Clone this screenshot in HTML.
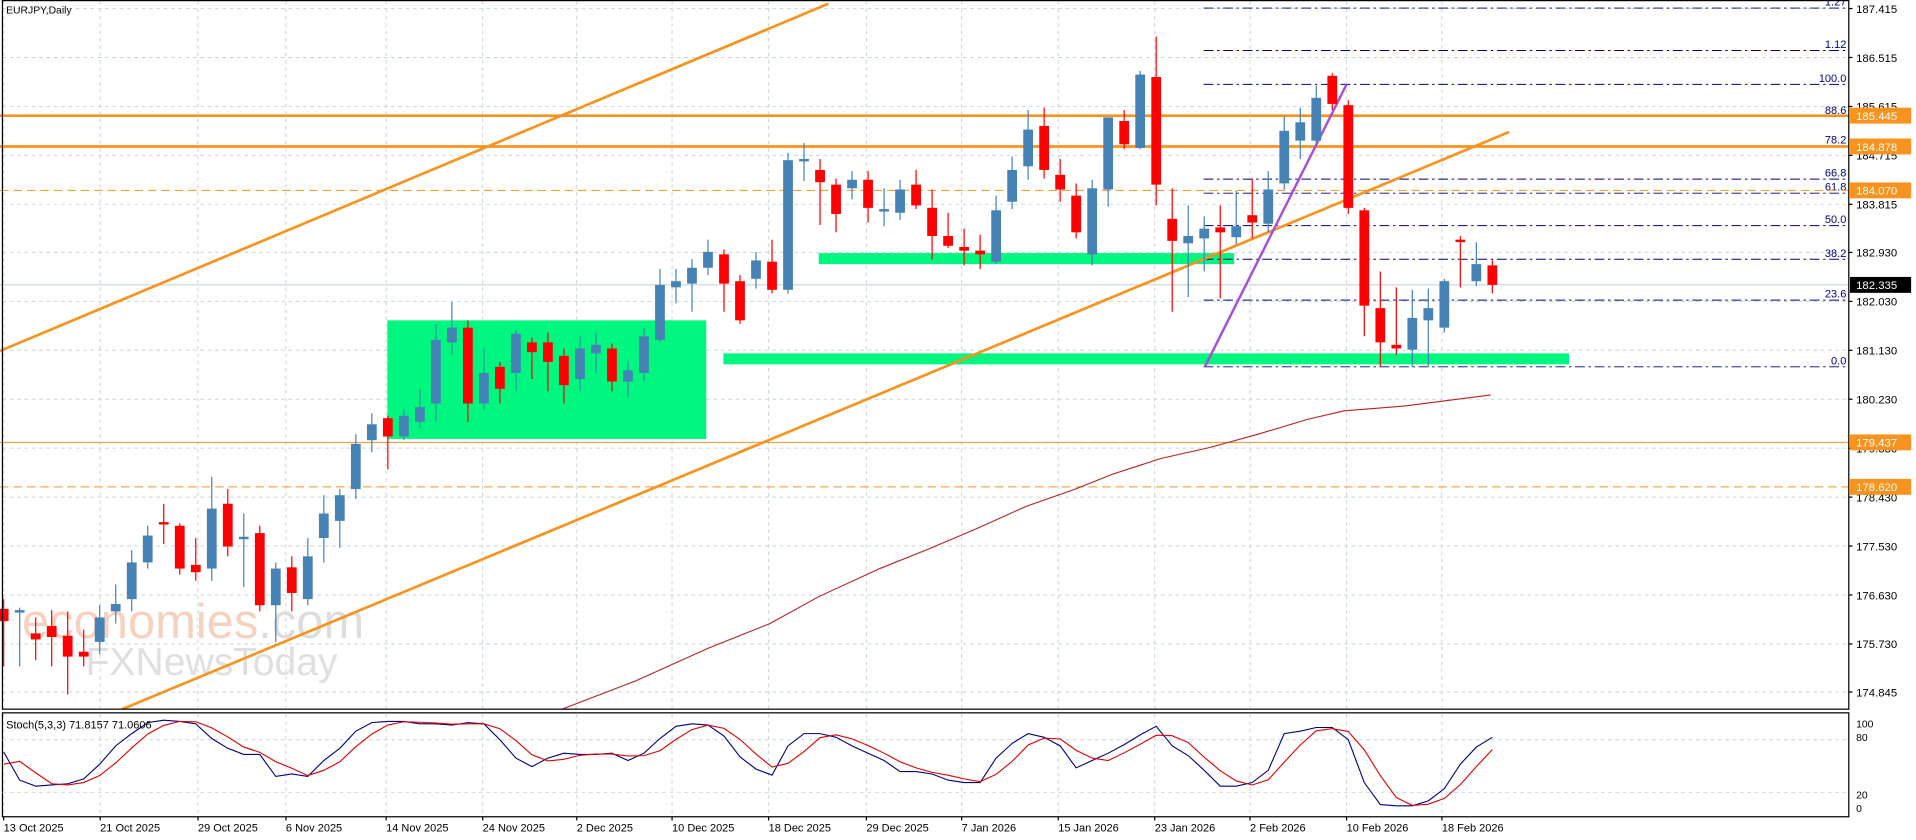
<!DOCTYPE html>
<html><head><meta charset="utf-8"><style>
html,body{margin:0;padding:0;background:#fff;overflow:hidden}
svg{display:block}
text{font-family:"Liberation Sans",sans-serif}
</style></head><body>
<svg id="s" width="1916" height="840" viewBox="0 0 1568 687" preserveAspectRatio="none" xmlns="http://www.w3.org/2000/svg">
<rect x="0" y="0" width="1568" height="687" fill="#fff"/>
<g id="grid" stroke="#c5d5dd" stroke-width="0.8" stroke-dasharray="3,3"></g>
<!-- green zones -->
<rect x="317" y="262" width="261" height="97" fill="#00f77f"/>
<rect x="670" y="207" width="340" height="9" fill="#00f77f"/>
<rect x="592" y="289" width="692" height="9" fill="#00f77f"/>
<!-- watermark -->
<text x="18" y="522" font-size="40" fill="#f6c9b4" opacity="0.85">economies<tspan fill="#d8d8d8">.com</tspan></text>
<text x="70" y="552" font-size="32" fill="#dcdcdc" opacity="0.9">FXNewsToday</text>
<!-- fib -->
<g id="fib" stroke="#000080" stroke-width="0.8" stroke-dasharray="8,3,2,3"></g>
<g id="fibt" font-size="9" fill="#000080" text-anchor="end"></g>
<!-- horizontal orange -->
<line x1="0" y1="94.6" x2="1513" y2="94.6" stroke="#f7931e" stroke-width="2.2"/>
<line x1="0" y1="119.8" x2="1513" y2="119.8" stroke="#f7931e" stroke-width="2.2"/>
<line x1="0" y1="155.7" x2="1513" y2="155.7" stroke="#f7931e" stroke-width="0.9" stroke-dasharray="7,4"/>
<line x1="0" y1="361.8" x2="1513" y2="361.8" stroke="#f7931e" stroke-width="0.9"/>
<line x1="0" y1="398.2" x2="1513" y2="398.2" stroke="#f7931e" stroke-width="0.9" stroke-dasharray="7,4"/>
<line x1="0" y1="233" x2="1513" y2="233" stroke="#c0d0d8" stroke-width="0.8"/>
<!-- MA -->
<polyline fill="none" stroke="#b22222" stroke-width="0.9" points="460,580 520,557 580,530 630,510 670,488 720,465 760,449 800,432 840,414 880,400 910,388 950,375 990,366 1030,355 1070,343 1100,336 1150,332 1220,323"/>
<!-- channel -->
<line x1="0" y1="287" x2="678" y2="3" stroke="#f7931e" stroke-width="2.2"/>
<line x1="100" y1="580" x2="1235" y2="108" stroke="#f7931e" stroke-width="2.2"/>
<line x1="986" y1="300" x2="1102" y2="69" stroke="#a64fd8" stroke-width="2"/>
<g id="candles"></g>
<!-- frames -->
<rect x="2" y="0.5" width="1511" height="579.5" fill="none" stroke="#000" stroke-width="1"/>
<rect x="2" y="583" width="1511" height="85" fill="none" stroke="#000" stroke-width="1"/>
<g id="ylab" font-size="9.3" fill="#000"></g>
<text x="5" y="11" font-size="8.5" fill="#000">EURJPY,Daily</text>
<!-- stoch -->
<line x1="2" y1="605" x2="1513" y2="605" stroke="#c5d5dd" stroke-width="0.8" stroke-dasharray="3,3"/>
<line x1="2" y1="648" x2="1513" y2="648" stroke="#c5d5dd" stroke-width="0.8" stroke-dasharray="3,3"/>
<polyline id="stm" fill="none" stroke="#000080" stroke-width="0.9"/>
<polyline id="sts" fill="none" stroke="#e00000" stroke-width="0.9"/>
<text x="5" y="596" font-size="9" fill="#000">Stoch(5,3,3) 71.8157 71.0606</text>
<g font-size="8.5" fill="#000">
<text x="1519" y="595">100</text><text x="1519" y="606">80</text><text x="1519" y="653">20</text><text x="1519" y="664">0</text>
</g>
<g id="dates" font-size="9" fill="#000"></g>
</svg>
<script>
var NS="http://www.w3.org/2000/svg";
function el(p,t,a,txt){var e=document.createElementNS(NS,t);for(var k in a)e.setAttribute(k,a[k]);if(txt!=null)e.textContent=txt;document.getElementById(p).appendChild(e);return e;}
function yp(p){return 7+(187.415-p)*44.47;}
var dx=[3,82,162,234,316,395,472,550,629,709,787,866,945,1023,1102,1180];
var dl=["13 Oct 2025","21 Oct 2025","29 Oct 2025","6 Nov 2025","14 Nov 2025","24 Nov 2025","2 Dec 2025","10 Dec 2025","18 Dec 2025","29 Dec 2025","7 Jan 2026","15 Jan 2026","23 Jan 2026","2 Feb 2026","10 Feb 2026","18 Feb 2026"];
dx.forEach(function(x,i){el("grid","line",{x1:x,y1:1,x2:x,y2:580});el("grid","line",{x1:x,y1:584,x2:x,y2:668});el("dates","text",{x:x,y:680},dl[i]);el("dates","line",{x1:x,y1:668,x2:x,y2:671,stroke:"#000"});});
var pl=["187.415","186.515","185.615","184.715","183.815","182.930","182.030","181.130","180.230","179.330","178.430","177.530","176.630","175.730","174.845"];
pl.forEach(function(p){var y=yp(+p);el("grid","line",{x1:2,y1:y,x2:1513,y2:y});el("ylab","text",{x:1519,y:y+3.5},p);el("ylab","line",{x1:1513,y1:y,x2:1516,y2:y,stroke:"#000"});});
// fib
var fb=[["0.0",300],["23.6",245.5],["38.2",212],["50.0",184.5],["61.8",158],["66.8",146.5],["78.2",119.4],["88.6",95.3],["100.0",69],["1.12",41.3],["1.27",6.6]];
fb.forEach(function(f){el("fib","line",{x1:985,y1:f[1],x2:1513,y2:f[1]});el("fibt","text",{x:1511,y:f[1]-2},f[0]);});
// special labels
[["185.445",94.6,"#f7931e"],["184.878",119.8,"#f7931e"],["184.070",155.7,"#f7931e"],["179.437",361.8,"#f7931e"],["178.620",398.2,"#f7931e"],["182.335",233,"#000"]].forEach(function(l){el("ylab","rect",{x:1514,y:l[1]-6.5,width:50,height:13,fill:l[2]});el("ylab","text",{x:1519,y:l[1]+3.5,fill:"#fff"},l[0]);});
var C=[[498,508,490,545,'r'],[499,501,497,545,'b'],[518,523,505,540,'r'],[512,521,499,545,'r'],[520,537,500,568,'r'],[533,537,515,545,'r'],[505,525,495,535,'b'],[494,500,478,510,'b'],[460,490,450,500,'b'],[438,460,430,465,'b'],[427,429,412,445,'r'],[430,465,428,470,'r'],[462,468,440,475,'r'],[416,465,390,475,'b'],[412,447,400,455,'r'],[439,441,420,480,'b'],[436,495,430,500,'r'],[465,495,460,525,'b'],[464,485,455,500,'r'],[455,490,440,495,'b'],[420,440,405,460,'b'],[405,426,400,448,'b'],[363,400,355,408,'b'],[347,360,338,370,'b'],[342,357,340,384,'r'],[340,357,335,360,'b'],[333,345,318,350,'b'],[278,330,265,345,'b'],[268,280,247,290,'b'],[268,330,262,345,'r'],[305,330,285,335,'b'],[300,318,296,330,'r'],[273,305,270,320,'b'],[280,288,276,310,'r'],[280,296,272,320,'r'],[291,315,285,330,'r'],[285,310,275,320,'b'],[282,289,272,305,'b'],[285,312,281,320,'r'],[303,312,295,325,'b'],[275,305,268,312,'b'],[233,278,220,280,'b'],[230,235,220,248,'b'],[219,232,212,255,'b'],[206,219,196,225,'b'],[208,232,204,255,'r'],[230,262,225,265,'r'],[213,228,206,236,'b'],[214,237,196,240,'r'],[131,237,125,240,'b'],[130,132,117,148,'b'],[139,149,130,184,'r'],[151,175,146,190,'r'],[147,154,140,163,'b'],[147,170,140,182,'r'],[171,173,154,185,'b'],[155,174,147,180,'b'],[151,168,139,171,'r'],[170,193,155,212,'r'],[193,201,174,203,'r'],[202,205,187,217,'r'],[205,208,192,220,'r'],[172,214,160,216,'b'],[139,165,128,171,'b'],[106,136,90,147,'b'],[103,139,88,146,'r'],[143,155,130,165,'r'],[160,190,150,195,'r'],[154,208,147,217,'b'],[96,155,96,169,'b'],[99,118,90,122,'r'],[61,121,58,122,'b'],[63,151,30,168,'r'],[179,197,154,255,'r'],[193,199,168,243,'b'],[187,195,177,222,'b'],[186,190,168,244,'r'],[185,194,156,200,'b'],[176,182,146,195,'r'],[155,183,140,190,'b'],[107,150,95,155,'b'],[100,115,88,130,'b'],[80,115,70,118,'b'],[62,85,60,90,'r'],[86,170,82,175,'r'],[172,250,170,275,'r'],[252,280,222,300,'r'],[282,285,235,290,'r'],[260,286,237,300,'b'],[252,262,236,300,'b'],[230,268,228,272,'b'],[196,198,193,235,'r'],[216,230,198,234,'b'],[217,233,213,240,'r']];
C.forEach(function(c,i){var x=3+13.1*i,col=c[4]=='b'?"#4682b4":"#ff0000";el("candles","line",{x1:x,y1:c[2],x2:x,y2:c[3],stroke:col,"stroke-width":1});el("candles","rect",{x:x-4,y:c[0],width:8,height:Math.max(1.5,c[1]-c[0]),fill:col});});
var M=[615,638,643,642,641,637,625,610,600,591,589,590,592,604,612,617,617,635,633,635,622,612,598,591,590,590,592,592,593,591,592,605,620,627,620,616,617,617,616,622,616,604,594,592,593,602,619,629,634,610,600,600,603,610,616,622,631,631,633,638,640,640,620,608,600,603,610,628,622,616,609,601,594,610,618,630,643,643,640,630,600,598,595,595,605,640,658,659,659,655,645,625,611,603];
var pm=[],ps=[];
M.forEach(function(v,i){var x=3+13.1*i;pm.push(x+","+v);var a=M[Math.max(0,i-1)],b=M[Math.max(0,i-2)];var s=(v+a+b)/3;if(i==0)s=625;ps.push(x+","+s.toFixed(1));});
document.getElementById("stm").setAttribute("points",pm.join(" "));
document.getElementById("sts").setAttribute("points",ps.join(" "));
</script>
</body></html>
